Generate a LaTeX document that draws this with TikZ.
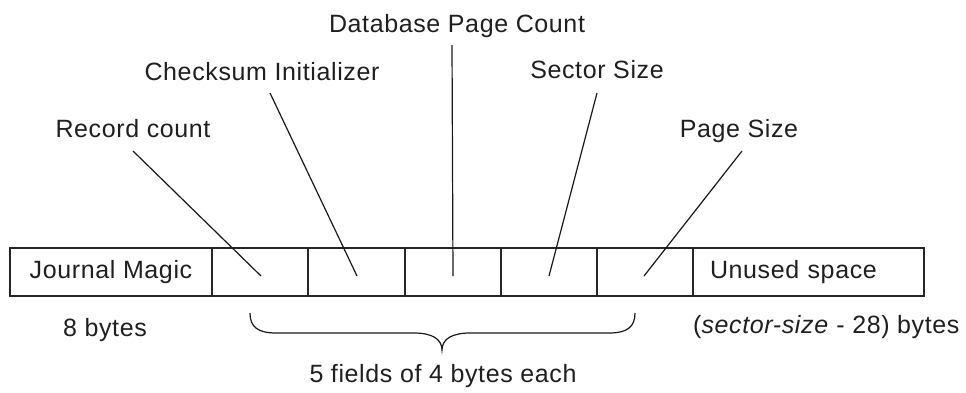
\documentclass[tikz,border=0pt]{standalone}
\usepackage{fontspec}
\setmainfont{Liberation Sans}[LetterSpace=2.5]
\begin{document}
\begin{tikzpicture}[x=1pt,y=-1pt,
  every node/.style={font=\fontsize{25}{30}\selectfont, text=black!88},
  lbl/.style={anchor=base, inner sep=0pt},
  cell/.style={draw=black!85, line width=1.5pt, minimum height=48pt, inner sep=0pt},
  leader/.style={draw=black!90, line width=1.2pt}]
\useasboundingbox (0,0) rectangle (966,392);

% header fields of the journal record
\node[cell, minimum width=202pt] (c1) at (111,272) {Journal Magic};
\node[cell, minimum width=96pt] (c2) at (260,272) {};
\node[cell, minimum width=97pt] (c3) at (356.5,272) {};
\node[cell, minimum width=96pt] (c4) at (453,272) {};
\node[cell, minimum width=96pt] (c5) at (549,272) {};
\node[cell, minimum width=96pt] (c6) at (645,272) {};
\node[cell, minimum width=231pt, text width=197pt, inner xsep=17pt, align=left] (c7) at (808.5,272) {Unused space};

% field names
\node[lbl] (rec) at (133,137) {Record count};
\node[lbl] (chk) at (262,80) {Checksum Initializer};
\node[lbl] (dbc) at (457,32) {Database Page Count};
\node[lbl] (sec) at (597,78) {Sector Size};
\node[lbl] (pgs) at (739,137) {Page Size};

% leader lines from names to fields
\coordinate (recs) at (133,151);
\coordinate (chks) at (270,93);
\coordinate (dbcs) at (452,45);
\coordinate (secs) at (597,93);
\coordinate (pgss) at (742,151);
\draw[leader] (recs) -- ([shift={(1pt,-4pt)}]c2.center);
\draw[leader] (chks) -- ([shift={(0.5pt,-4pt)}]c3.center);
\draw[leader] (dbcs) -- ([shift={(0pt,-4pt)}]c4.center);
\draw[leader] (secs) -- ([shift={(0pt,-4pt)}]c5.center);
\draw[leader] (pgss) -- ([shift={(-1pt,-4pt)}]c6.center);

% sizes
\node[lbl] (sz8) at (105,336) {8 bytes};
\node[lbl, anchor=base west] (szu) at (693,333) {(\textit{sector-size} - 28) bytes};

% brace over the five 4-byte fields
\draw[draw=black!90, line width=1.2pt]
  (250,313) .. controls (250,327) and (258,333) .. (276,333) -- (414,333)
  .. controls (432,333) and (442,339) .. (442,350)
  .. controls (442,339) and (452,333) .. (470,333) -- (609,333)
  .. controls (627,333) and (635,327) .. (635,313);
\node[lbl] (five) at (443,382) {5 fields of 4 bytes each};
\end{tikzpicture}
\end{document}
